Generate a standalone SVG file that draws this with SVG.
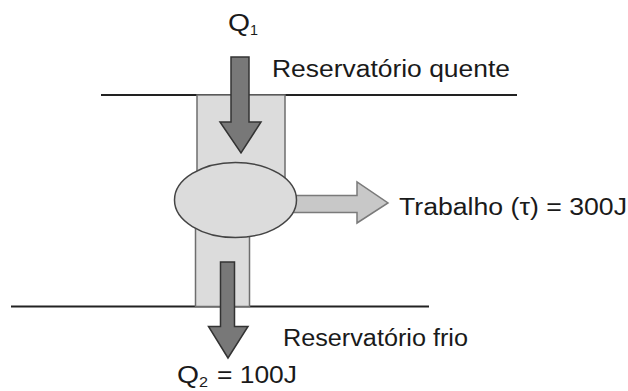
<svg xmlns="http://www.w3.org/2000/svg" width="628" height="391" viewBox="0 0 628 391">
<style>
.t{font-family:"Liberation Sans",Arial,sans-serif;font-size:23px;fill:#1a1a1a}
.s{font-family:"Liberation Sans",Arial,sans-serif;font-size:15px;fill:#1a1a1a}
.box{fill:#dcdcdc;stroke:#6e6e6e;stroke-width:1.5}
.dark{fill:#787878;stroke:#333;stroke-width:1.5;stroke-linejoin:miter}
.light{fill:#c8c8c8;stroke:#7a7a7a;stroke-width:1.5}
.line{stroke:#222;stroke-width:2}
</style>
<rect width="628" height="391" fill="#fff"/>
<g id="hot-reservoir">
<line class="line" x1="101" y1="95" x2="517" y2="95"/>
<text class="t" x="272" y="77" textLength="238" lengthAdjust="spacingAndGlyphs">Reservatório quente</text>
</g>
<g id="cold-reservoir">
<line class="line" x1="11" y1="306.5" x2="429" y2="306.5"/>
<text class="t" x="283" y="346" textLength="185" lengthAdjust="spacingAndGlyphs">Reservatório frio</text>
</g>
<g id="upper-column"><rect class="box" x="197" y="95" width="88" height="95"/></g>
<g id="lower-column"><rect class="box" x="195.5" y="225" width="54" height="81.5"/></g>
<g id="connectors">
<polygon id="work-arrow" class="light" points="290,195.5 357,195.5 357,182 388,203 357,223 357,212.5 290,212.5"/>
</g>
<g id="engine"><ellipse cx="235.5" cy="200" rx="61" ry="37.5" fill="#dcdcdc" stroke="#444" stroke-width="1.5"/></g>
<g id="arrows">
<polygon id="q1-arrow" class="dark" points="231,57 249,57 249,122 261,122 241,153 220,122 231,122"/>
<polygon id="q2-arrow" class="dark" points="220.5,262 234.5,262 234.5,326.5 248,326.5 228,358 208.5,326.5 220.5,326.5"/>
</g>
<g id="labels">
<text class="t" x="228" y="31" textLength="22" lengthAdjust="spacingAndGlyphs">Q</text>
<text class="s" x="250" y="35" textLength="8" lengthAdjust="spacingAndGlyphs">1</text>
<text class="t" x="399" y="215" textLength="228" lengthAdjust="spacingAndGlyphs">Trabalho (τ) = 300J</text>
<text class="t" x="177" y="383" textLength="22" lengthAdjust="spacingAndGlyphs">Q</text>
<text class="s" x="199" y="387" textLength="9" lengthAdjust="spacingAndGlyphs">2</text>
<text class="t" x="217" y="383" textLength="80" lengthAdjust="spacingAndGlyphs">= 100J</text>
</g>
</svg>
